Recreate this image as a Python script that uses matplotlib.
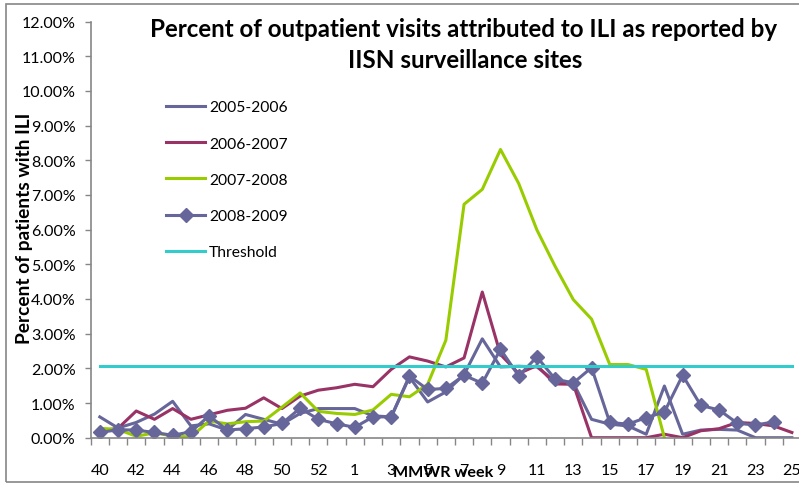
import matplotlib
matplotlib.use("Agg")
import matplotlib.pyplot as plt
from matplotlib.patches import Rectangle
from matplotlib.ticker import FuncFormatter, FixedLocator

weeks = list(range(40, 54)) + list(range(1, 26))

s2005 = [0.60, 0.28, 0.44, 0.68, 1.05, 0.34, 0.40, 0.22, 0.67, 0.53, 0.39, 0.70, 0.84,
         0.84, 0.84, 0.63, 0.60, 1.75, 1.03, 1.32, 1.82, 2.85, 2.04, 2.06, 2.04, 1.63,
         1.58, 0.53, 0.39, 0.34, 0.10, 1.49, 0.10, 0.22, 0.24, 0.22, 0.00, 0.00, 0.00]
s2006 = [0.20, 0.27, 0.77, 0.53, 0.84, 0.53, 0.66, 0.79, 0.85, 1.15, 0.84, 1.20, 1.37,
         1.44, 1.54, 1.47, 1.97, 2.33, 2.21, 2.04, 2.30, 4.20, 2.40, 1.85, 2.08, 1.55,
         1.54, 0.00, 0.00, 0.00, 0.00, 0.10, 0.00, 0.20, 0.26, 0.44, 0.41, 0.34, 0.15]
s2007 = [0.27, 0.24, 0.04, 0.14, 0.05, 0.02, 0.48, 0.40, 0.46, 0.48, 0.88, 1.29, 0.76,
         0.70, 0.67, 0.80, 1.25, 1.18, 1.54, 2.81, 6.73, 7.16, 8.31, 7.33, 5.99, 4.94,
         3.98, 3.42, 2.11, 2.11, 1.97, 0.00]
s2008 = [0.15, 0.23, 0.22, 0.15, 0.07, 0.17, 0.63, 0.22, 0.26, 0.31, 0.41, 0.85, 0.53,
         0.40, 0.30, 0.60, 0.60, 1.78, 1.39, 1.42, 1.80, 1.57, 2.55, 1.78, 2.33, 1.69,
         1.58, 2.02, 0.44, 0.39, 0.58, 0.74, 1.80, 0.93, 0.80, 0.42, 0.36, 0.46]
threshold = [2.08] * len(weeks)

title1 = 'Percent of outpatient visits attributed to ILI as reported by'
title2 = 'IISN surveillance sites'

W, H = 799, 489
DPI = 100
PT = DPI / 72.0
plt.rcParams['font.family'] = ['Lato', 'DejaVu Sans']
fig = plt.figure(figsize=(W / DPI, H / DPI), dpi=DPI)


def fx(x):
    return x / W


def fy(y):
    return 1 - y / H


def bbox(artist):
    fig.canvas.draw()
    return artist.get_window_extent(renderer=fig.canvas.get_renderer())


def fit(artist, target, dim='w'):
    b = bbox(artist)
    cur = b.width if dim == 'w' else b.height
    artist.set_fontsize(artist.get_fontsize() * target / cur)
    return artist.get_fontsize()


left, right, top, bottom = 90.7, 801, 22.5, 438.7
ax = fig.add_axes([fx(left), fy(bottom), fx(right - left), fy(top) - fy(bottom)])

n = len(weeks)
xs = list(range(n))
blue = '#66669A'
lw = 2.2
ax.plot(xs, s2005, color=blue, lw=lw, label='2005-2006')
ax.plot(xs, s2006, color='#993366', lw=lw, label='2006-2007')
ax.plot(xs[:len(s2007)], s2007, color='#99CC00', lw=lw, label='2007-2008')
ax.plot(xs[:len(s2008)], s2008, color=blue, lw=lw, marker='D', ms=7.2,
        mfc=blue, mec=blue, label='2008-2009')
ax.plot(xs, threshold, color='#33CCCC', lw=lw, label='Threshold')

ax.set_xlim(-0.5, n - 0.5)
ax.set_ylim(0, 12)

grey = '#868686'
for sp in ['top', 'right']:
    ax.spines[sp].set_visible(False)
for sp in ['left', 'bottom']:
    ax.spines[sp].set_color(grey)
    ax.spines[sp].set_linewidth(1.2)

# tick label size fitted to "12.00%" width of ~54 px
probe = fig.text(0, 0, '12.00%', fontsize=11.5)
tick_fs = fit(probe, 54)
probe.remove()

ax.set_yticks(range(0, 13))
ax.yaxis.set_major_formatter(FuncFormatter(lambda v, p: f"{v:.2f}%"))
ax.tick_params(axis='y', length=4, width=1, color=grey, labelsize=tick_fs, pad=9.5 / PT)

lab_idx = list(range(0, n, 2))
ax.set_xticks(lab_idx)
ax.set_xticklabels([str(weeks[i]) for i in lab_idx])
xpad = 22.0
ax.tick_params(axis='x', which='major', length=0, labelsize=tick_fs, pad=xpad)
ax.xaxis.set_minor_locator(FixedLocator([i - 0.5 for i in range(n + 1)]))
ax.tick_params(axis='x', which='minor', length=5, width=1, color=grey)

# place x tick labels centred at y ~ 470.7
lbl = ax.get_xticklabels()[6]
b = bbox(lbl)
cy = H - (b.y0 + b.y1) / 2
xpad += (470.7 - cy) / PT
ax.tick_params(axis='x', which='major', pad=xpad)

# axis titles
ylab = fig.text(fx(25), fy(228), 'Percent of patients with ILI', rotation=90, ha='center',
                va='center', fontsize=12, fontweight='bold')
fit(ylab, 231, 'h')
xlab = fig.text(fx(443), fy(473), 'MMWR week', ha='center', va='center', fontsize=12,
                fontweight='bold')
fit(xlab, 100)

# chart title
t2 = fig.text(fx(465.5), fy(68), title2, ha='center', va='baseline', fontsize=16,
              fontweight='bold')
title_fs = fit(t2, 235)
t1 = fig.text(fx(150), fy(37), title1, ha='left', va='baseline', fontsize=title_fs,
              fontweight='bold')

# legend
probe = fig.text(0, 0, '2005-2006', fontsize=11.5)
leg_fs = fit(probe, 79)
probe.remove()
fs_px = leg_fs * PT
ls = 1.0
anchor = [160, 94]


def make_legend():
    return ax.legend(loc='upper left', bbox_to_anchor=(fx(anchor[0]), fy(anchor[1])),
                     bbox_transform=fig.transFigure, frameon=False, fontsize=leg_fs,
                     handlelength=39 / fs_px, handletextpad=4 / fs_px, labelspacing=ls,
                     numpoints=1, borderaxespad=0, borderpad=0)


leg = make_legend()
for _ in range(2):
    tb = [bbox(t) for t in leg.get_texts()]
    pitch = ((tb[0].y0 + tb[0].y1) / 2 - (tb[4].y0 + tb[4].y1) / 2) / 4
    ls += (36.25 - pitch) / fs_px
    leg.remove()
    leg = make_legend()
    tb = [bbox(t) for t in leg.get_texts()]
    cy0 = H - (tb[0].y0 + tb[0].y1) / 2
    anchor[0] += 209 - tb[0].x0
    anchor[1] += 108.3 - cy0
    leg.remove()
    leg = make_legend()

fig.patches.append(Rectangle((fx(6), fy(483)), 1.0, fy(5) - fy(483),
                             transform=fig.transFigure, fill=False, edgecolor=grey, lw=1.2))

fig.savefig('out.png', dpi=DPI)
